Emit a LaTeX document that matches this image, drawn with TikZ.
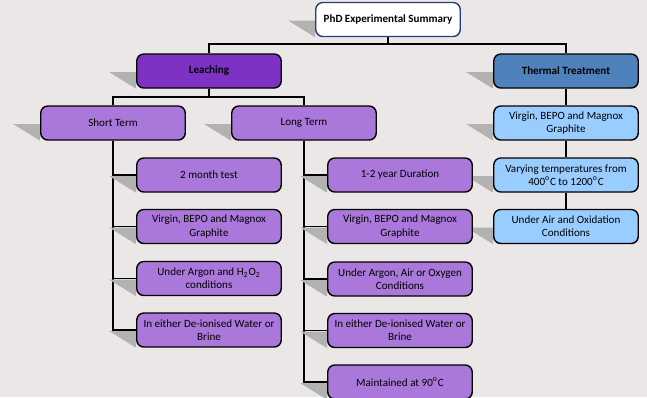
\documentclass[tikz,border=0pt]{standalone}
\usepackage{fontspec}
\setmainfont{Carlito}
\usetikzlibrary{backgrounds, calc}

\definecolor{bgpaper}{RGB}{236,231,231}
\definecolor{leachpurple}{RGB}{125,50,195}
\definecolor{lightpurple}{RGB}{170,120,218}
\definecolor{thermblue}{RGB}{79,129,189}
\definecolor{lightblue}{RGB}{153,204,255}
\definecolor{rootline}{RGB}{40,60,120}

\begin{document}
\begin{tikzpicture}[
      x=0.02cm, y=-0.02cm,
      box/.style={draw=black, line width=0.8pt, rounded corners=4pt,
                  minimum width=2.88cm, minimum height=0.68cm, text width=2.82cm,
                  align=flush center, inner sep=1pt,
                  font=\fontsize{6.3}{7.5}\selectfont},
      head/.style={box, font=\fontsize{6.3}{7.5}\selectfont\bfseries},
      rootbox/.style={head, fill=white, draw=rootline},
      leachbox/.style={head, fill=leachpurple},
      thermbox/.style={head, fill=thermblue},
      sub/.style={box, fill=lightpurple},
      tsub/.style={box, fill=lightblue},
      conn/.style={draw=black, line width=1.1pt},
      shade/.style={fill=black!30, draw=none}
    ]
    \useasboundingbox (0,0) rectangle (647,397);

    % --- Top of the tree ---
    \node[rootbox]  (root)  at (388,19.5) {PhD Experimental Summary};
    \node[leachbox] (leach) at (209,71)   {Leaching};
    \node[thermbox] (therm) at (566,71)   {Thermal Treatment};

    % --- Leaching terms ---
    \node[sub] (short) at (113,123) {Short Term};
    \node[sub] (long)  at (304,123) {Long Term};

    % --- Short term ---
    \node[sub] (s1) at (209,175) {2 month test};
    \node[sub] (s2) at (209,226.5) {Virgin, BEPO and Magnox Graphite};
    \node[sub] (s3) at (209,278.5) {Under Argon and H\textsubscript{2}O\textsubscript{2} conditions};
    \node[sub] (s4) at (209,330) {In either De-ionised Water or Brine};

    % --- Long term ---
    \node[sub] (l1) at (400,175) {1-2 year Duration};
    \node[sub] (l2) at (400,226.5) {Virgin, BEPO and Magnox Graphite};
    \node[sub] (l3) at (400,279) {Under Argon, Air or Oxygen Conditions};
    \node[sub] (l4) at (400,330.5) {In either De-ionised Water or Brine};
    \node[sub] (l5) at (400,382) {Maintained at 90\textsuperscript{o}C};

    % --- Thermal treatment ---
    \node[tsub] (t1) at (566,123) {Virgin, BEPO and Magnox Graphite};
    \node[tsub] (t2) at (566,175) {Varying temperatures from 400\textsuperscript{o}C to 1200\textsuperscript{o}C};
    \node[tsub] (t3) at (566,226.5) {Under Air and Oxidation Conditions};

    \begin{scope}[on background layer]
      \fill[bgpaper] (0,0) rectangle (647,397);

      % --- Connectors ---
      \coordinate (bus)  at (388,44);
      \coordinate (lbus) at (209,97);
      \draw[conn] (root.south) -- (bus);
      \draw[conn] (leach.north) |- (bus) -| (therm.north);
      \draw[conn] (leach.south) -- (lbus);
      \draw[conn] (short.north) |- (lbus) -| (long.north);
      \foreach \n in {s1,s2,s3,s4}
        \draw[conn] (short.south) |- (\n.west);
      \foreach \n in {l1,l2,l3,l4,l5}
        \draw[conn] (long.south) |- (\n.west);
      \draw[conn] (therm) -- (t1) -- (t2) -- (t3);

      % --- Shadows ---
      \foreach \n in {root,leach,therm,short,long,s1,s2,s3,s4,l1,l2,l3,l4,l5,t1,t2,t3}
        \fill[shade] ($(\n.west)+(-27,1)$) -- ($(\n.west)+(0,1)$)
          -- (\n.south west) -- cycle;
    \end{scope}

  \end{tikzpicture}
\end{document}
